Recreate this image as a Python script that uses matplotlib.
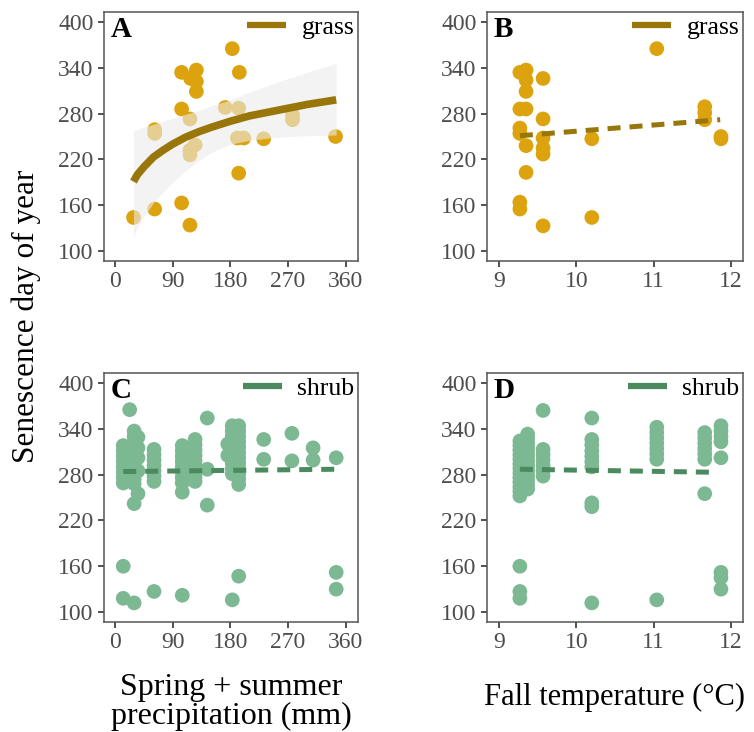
"""Senescence day of year vs precipitation and fall temperature, grass and shrub."""

# --------------------------------------------------
# load necessary modules
# --------------------------------------------------
import matplotlib

matplotlib.use("Agg")
import matplotlib.pyplot as plt
from matplotlib.lines import Line2D

plt.rcParams["font.family"] = ["Liberation Serif", "DejaVu Serif"]

# --------------------------------------------------
# data
# --------------------------------------------------
# panel A: grass, spring + summer precipitation (mm)
grass_precip = [29, 62, 62, 62, 104, 117, 104, 127, 118, 127, 127, 104, 117, 125,
                117, 117, 183, 194, 172, 193, 191, 201, 193, 232, 277, 277, 344]
grass_sday_a = [144, 155, 259, 254, 163, 134, 334, 337, 326, 322, 309, 286, 273, 239,
                232, 226, 365, 334, 288, 287, 248, 248, 202, 247, 278, 272, 250]

# panel B: grass, fall temperature (deg C)
grass_temp = [9.27, 9.35, 9.35, 9.57, 9.35, 9.27, 9.35, 9.57, 9.27, 9.27, 9.35, 9.57, 9.57,
              9.57, 9.35, 9.27, 9.27, 9.57, 10.2, 10.2, 11.04, 11.66, 11.66, 11.66, 11.87, 11.87]
grass_sday_b = [334, 337, 324, 326, 309, 286, 286, 273, 261, 254, 238, 248, 235,
                227, 203, 164, 155, 133, 247, 144, 365, 289, 281, 272, 250, 247]

# panel C: shrub, precipitation
shrub_precip = ([13] * 10 + [23] + [30] * 13 + [36] * 5 + [61] * 8 + [105] * 10
                + [125] * 9 + [144] * 3 + [183] * 11 + [193] * 13 + [176] * 2
                + [232] * 2 + [276] * 2 + [309] * 2 + [345] * 3)
shrub_sday_c = ([318, 311, 304, 297, 290, 283, 276, 269, 160, 118]
                + [365]
                + [337, 330, 323, 316, 309, 302, 295, 288, 281, 274, 268, 242, 112]
                + [329, 315, 302, 285, 255]
                + [313, 306, 299, 292, 285, 278, 271, 127]
                + [318, 311, 304, 297, 290, 283, 276, 269, 257, 122]
                + [326, 319, 312, 305, 298, 291, 284, 277, 271]
                + [354, 287, 240]
                + [344, 337, 330, 323, 316, 309, 302, 295, 288, 281, 116]
                + [344, 337, 330, 323, 316, 309, 302, 295, 288, 281, 274, 267, 147]
                + [320, 305]
                + [326, 300] + [334, 298] + [315, 299] + [302, 152, 130])

# panel D: shrub, fall temperature
shrub_temp = ([9.27] * 16 + [9.37] * 13 + [9.57] * 7 + [10.2] * 10
              + [11.04] * 8 + [11.66] * 7 + [11.87] * 8)
shrub_sday_d = ([324, 318, 312, 306, 300, 294, 288, 282, 276, 270, 264, 258, 252, 160, 127, 118]
                + [333, 327, 321, 315, 309, 303, 297, 291, 285, 279, 273, 267, 261]
                + [364, 313, 306, 299, 292, 285, 278]
                + [354, 326, 319, 311, 304, 297, 290, 243, 238, 112]
                + [342, 335, 328, 321, 314, 307, 300, 116]
                + [335, 328, 321, 314, 307, 300, 255]
                + [344, 337, 330, 323, 302, 152, 145, 130])

# fitted lines
grass_fit_precip = [29, 35, 45, 60, 75, 90, 110, 130, 150, 180, 210, 240, 270, 300, 345]
grass_fit_sday = [191, 200, 210, 223, 232, 240, 249, 256, 262, 270, 277, 282, 287, 292, 298]
grass_ci_lo = [119, 131, 145, 163, 177, 190, 205, 218, 229, 240, 245, 248, 250, 251, 252]
grass_ci_hi = [257, 259, 262, 266, 270, 274, 279, 284, 290, 298, 308, 317, 326, 334, 346]

grass_fit_temp = [9.27, 11.86]
grass_fit_sday_b = [251, 272]
shrub_fit_precip = [13, 345]
shrub_fit_sday_c = [284, 287]
shrub_fit_temp = [9.27, 11.81]
shrub_fit_sday_d = [287, 283]

precip_ticks = [0, 90, 180, 270, 360]
temp_ticks = [9, 10, 11, 12]
sday_ticks = [100, 160, 220, 280, 340, 400]

# --------------------------------------------------
# styling
# --------------------------------------------------
GRASS_PT = "#DCA30E"
GRASS_LN = "#98760A"
SHRUB_PT = "#7CB892"
SHRUB_LN = "#4A8A5E"
PT_SIZE = 112
DASH = (2.6, 1.8)

W, H = 754, 732


def frac_rect(left, top, right, bottom):
    """pixel box -> figure fraction rect"""
    return [left / W, 1 - bottom / H, (right - left) / W, (bottom - top) / H]


def style_axes(ax, xticks, xlim, letter, label, color):
    ax.set_xlim(*xlim)
    ax.set_ylim(87, 413)
    ax.set_xticks(xticks)
    ax.set_yticks(sday_ticks)
    ax.tick_params(direction="out", length=4.5, width=1.2, color="#333333",
                   labelsize=17, labelcolor="#4D4D4D", pad=3)
    for sp in ax.spines.values():
        sp.set_color("#555555")
        sp.set_linewidth(1.1)
    ax.text(0.025, 0.985, letter, transform=ax.transAxes, ha="left", va="top",
            fontsize=21, fontweight="bold")
    handle = Line2D([], [], color=color, lw=4.5, solid_capstyle="butt")
    ax.legend([handle], [label], loc="upper right", frameon=False, fontsize=18.5,
              handlelength=1.5, handletextpad=0.6, borderaxespad=0.15, borderpad=0.0)


# --------------------------------------------------
# build figure
# --------------------------------------------------
fig = plt.figure(figsize=(W / 100, H / 100), dpi=100)
ax_a = fig.add_axes(frac_rect(104, 12, 358, 261))
ax_b = fig.add_axes(frac_rect(487, 12, 743, 261))
ax_c = fig.add_axes(frac_rect(104, 373, 358, 622))
ax_d = fig.add_axes(frac_rect(487, 373, 743, 622))

# panel A: points, ci band above them, then log fit
ax_a.scatter(grass_precip, grass_sday_a, s=PT_SIZE, color=GRASS_PT, edgecolors="none", zorder=2)
ax_a.fill_between(grass_fit_precip, grass_ci_lo, grass_ci_hi, color="#EBEBEB", alpha=0.6,
                  lw=0, zorder=3)
ax_a.plot(grass_fit_precip, grass_fit_sday, color=GRASS_LN, lw=5.5, solid_capstyle="butt", zorder=4)
style_axes(ax_a, precip_ticks, (-17, 379), "A", "grass", GRASS_LN)

# panel B
ax_b.scatter(grass_temp, grass_sday_b, s=PT_SIZE, color=GRASS_PT, edgecolors="none", zorder=2)
ax_b.plot(grass_fit_temp, grass_fit_sday_b, color=GRASS_LN, lw=3.6, dashes=DASH,
          dash_capstyle="butt", zorder=4)
style_axes(ax_b, temp_ticks, (8.845, 12.155), "B", "grass", GRASS_LN)

# panel C
ax_c.scatter(shrub_precip, shrub_sday_c, s=PT_SIZE, color=SHRUB_PT, edgecolors="none", zorder=2)
ax_c.plot(shrub_fit_precip, shrub_fit_sday_c, color=SHRUB_LN, lw=3.6, dashes=DASH,
          dash_capstyle="butt", zorder=4)
style_axes(ax_c, precip_ticks, (-17, 379), "C", "shrub", SHRUB_LN)

# panel D
ax_d.scatter(shrub_temp, shrub_sday_d, s=PT_SIZE, color=SHRUB_PT, edgecolors="none", zorder=2)
ax_d.plot(shrub_fit_temp, shrub_fit_sday_d, color=SHRUB_LN, lw=3.6, dashes=DASH,
          dash_capstyle="butt", zorder=4)
style_axes(ax_d, temp_ticks, (8.845, 12.155), "D", "shrub", SHRUB_LN)

# shared axis titles
fig.text(26 / W, 1 - 316 / H, "Senescence day of year", rotation=90,
         ha="center", va="center", fontsize=22.5)
fig.text(231 / W, 1 - 702 / H, "Spring + summer\nprecipitation (mm)",
         ha="center", va="center", fontsize=23, linespacing=1.0)
fig.text(615 / W, 1 - 697 / H, "Fall temperature (°C)",
         ha="center", va="center", fontsize=22)

fig.savefig("out.png", dpi=100)
plt.close(fig)
